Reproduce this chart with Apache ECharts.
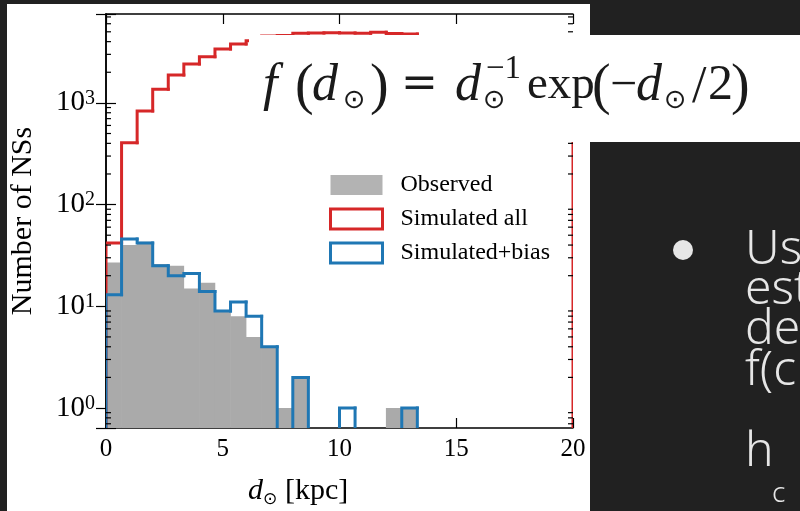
<!DOCTYPE html>
<html><head><meta charset="utf-8">
<script src="https://cdn.jsdelivr.net/npm/echarts@6/dist/echarts.min.js"></script>
<style>html,body{margin:0;padding:0;background:#212121;} #chart{width:800px;height:511px;}</style>
</head><body><div id="chart"></div>
<script>
// ---- data ----
const xRange = [0, 20];
const binCount = 30;
const observed      = [27, 40, 43, 26, 25, 15, 17, 9, 8, 5, 4, 1, 2, 0, 0, 0, 0, 0, 1, 1, 0, 0, 0, 0, 0, 0, 0, 0, 0, 0];
const simulatedAll  = [42, 406, 833, 1361, 1880, 2414, 2845, 3390, 3800, 4075, 4550, 4600, 4850, 4870, 4880, 4860, 4850, 4950, 4800, 4750, 4300, 3900, 3500, 3000, 2600, 2200, 1800, 1400, 1100, 800];
const simulatedBias = [13, 46, 42, 25, 20, 21, 14, 9, 11, 8, 4, 0, 2, 0, 0, 1, 0, 0, 0, 1, 0, 0, 0, 0, 0, 0, 0, 0, 0, 0];
const seriesNames = ['Observed', 'Simulated all', 'Simulated+bias'];
const xTickInterval = 5;
const yRange = [0.636, 7480];
const yMinorTicks = [0.7, 0.8, 0.9, 2, 3, 4, 5, 6, 7, 8, 9, 20, 30, 40, 50, 60, 70, 80, 90, 200, 300, 400, 500, 600, 700, 800, 900, 2000, 3000, 4000, 5000, 6000, 7000];

// ---- helpers ----
const binWidth = (xRange[1] - xRange[0]) / binCount;
function toBins(vals) {
  return vals.map((v, i) => [xRange[0] + i * binWidth, xRange[0] + (i + 1) * binWidth, v, i > 0 ? vals[i - 1] : 0, i === vals.length - 1 ? 1 : 0]);
}
function levelY(api, x, v) {
  if (v > 0) return api.coord([x, v])[1];
  return api.coord([x, yRange[0]])[1] + 20;
}
function stepRender(color) {
  return function (params, api) {
    const x0 = api.value(0), x1 = api.value(1), v = api.value(2), pv = api.value(3), last = api.value(4);
    const px0 = api.coord([x0, yRange[0]])[0], px1 = api.coord([x1, yRange[0]])[0];
    const y = levelY(api, x0, v), py = levelY(api, x0, pv);
    const pts = [[px0, py], [px0, y], [px1, y]];
    if (last) pts.push([px1, levelY(api, x1, 0)]);
    return { type: 'polyline', shape: { points: pts }, style: { stroke: color, lineWidth: 3, fill: null, lineJoin: 'miter', lineCap: 'square' } };
  };
}
function barRender(color) {
  return function (params, api) {
    const v = api.value(2);
    if (!(v > 0)) return { type: 'group', children: [] };
    const p0 = api.coord([api.value(0), v]);
    const p1 = api.coord([api.value(1), yRange[0]]);
    return { type: 'rect', shape: { x: p0[0] - 0.3, y: p0[1], width: p1[0] - p0[0] + 0.6, height: p1[1] - p0[1] + 5 }, style: { fill: color } };
  };
}
function minorTickRender(params, api) {
  const v = api.value(1);
  const pl = api.coord([xRange[0], v]);
  const pr = api.coord([xRange[1], v]);
  return { type: 'group', children: [
    { type: 'line', shape: { x1: pl[0], y1: pl[1], x2: pl[0] + 5, y2: pl[1] }, style: { stroke: '#000', lineWidth: 1.2 } },
    { type: 'line', shape: { x1: pr[0] - 5, y1: pr[1], x2: pr[0], y2: pr[1] }, style: { stroke: '#000', lineWidth: 1.2 } }
  ] };
}

const serif = 'Liberation Serif';
const axisLine = { lineStyle: { color: '#000', width: 1.5 } };
const majorTick = { inside: true, length: 10, lineStyle: { color: '#000', width: 1.2 } };

const red = '#d62728', blue = '#1f77b4', gray = '#aaaaaa';

function txt(text, x, y, size, opts) {
  opts = opts || {};
  return { type: 'text', x: x, y: y, z: opts.z || 120, rotation: opts.rotation || 0,
    style: { text: text, fontFamily: opts.family || serif, fontSize: size, fontStyle: opts.italic ? 'italic' : 'normal',
      fontWeight: opts.weight || 'normal',
      fill: opts.color || '#000', align: opts.align || 'left', verticalAlign: 'middle' } };
}

const sansR = 'Noto Sans';
const light = '#e6e6e6';
const ink = '#1a1a1a';
const fm = 86; // formula middle line

const option = {
  backgroundColor: '#212121',
  animation: false,
  grid: { left: 106, right: 227, top: 14, bottom: 83, containLabel: false },
  xAxis: [
    { type: 'value', min: xRange[0], max: xRange[1], interval: xTickInterval, position: 'bottom', axisLine: axisLine, axisTick: majorTick,
      axisLabel: { fontFamily: serif, fontSize: 25, color: '#000', margin: 9 }, splitLine: { show: false } },
    { type: 'value', min: xRange[0], max: xRange[1], interval: xTickInterval, position: 'top', axisLine: axisLine, axisTick: majorTick,
      axisLabel: { show: false }, splitLine: { show: false } }
  ],
  yAxis: [
    { type: 'log', logBase: 10, min: yRange[0], max: yRange[1], position: 'left', axisLine: axisLine, axisTick: majorTick, splitLine: { show: false },
      axisLabel: { margin: 11, formatter: function (v) { const e = Math.log10(v); const r = Math.round(e); if (Math.abs(e - r) > 1e-6) return ''; return '{b|10}{s|' + r + '}'; },
        rich: { b: { fontFamily: serif, fontSize: 29, color: '#000' }, s: { fontFamily: serif, fontSize: 20, color: '#000', verticalAlign: 'top' } } } },
    { type: 'log', logBase: 10, min: yRange[0], max: yRange[1], position: 'right', axisLine: axisLine, axisTick: majorTick, splitLine: { show: false }, axisLabel: { show: false } }
  ],
  legend: {
    orient: 'vertical', left: 329, top: 173, padding: 0, itemWidth: 52, itemHeight: 20, itemGap: 10, icon: 'rect', selectedMode: false,
    textStyle: { fontFamily: serif, fontSize: 24, color: '#000', lineHeight: 24, padding: [0, 0, 0, 13] },
    data: [
      { name: seriesNames[0], itemStyle: { color: '#b3b3b3', borderWidth: 0 } },
      { name: seriesNames[1], itemStyle: { color: '#fff', borderColor: red, borderWidth: 3 } },
      { name: seriesNames[2], itemStyle: { color: '#fff', borderColor: blue, borderWidth: 3 } }
    ]
  },
  series: [
    { name: seriesNames[0], type: 'custom', clip: true, renderItem: barRender(gray), encode: { x: [0, 1], y: 2 }, data: toBins(observed), itemStyle: { color: gray }, z: 2 },
    { name: seriesNames[1], type: 'custom', clip: true, renderItem: stepRender(red), encode: { x: [0, 1], y: 2 }, data: toBins(simulatedAll), itemStyle: { color: red }, z: 3 },
    { name: seriesNames[2], type: 'custom', clip: true, renderItem: stepRender(blue), encode: { x: [0, 1], y: 2 }, data: toBins(simulatedBias), itemStyle: { color: blue }, z: 4 },
    { name: 'minor', type: 'custom', clip: false, renderItem: minorTickRender, encode: { x: 0, y: 1 }, data: yMinorTicks.filter(v => v > yRange[0] && v < yRange[1]).map(v => [xRange[0], v]), z: 5, silent: true }
  ],
  graphic: [
    { type: 'rect', z: -100, shape: { x: 7, y: 4, width: 583, height: 507 }, style: { fill: '#fff' } },
    txt('Number of NSs', 23, 221, 30, { rotation: Math.PI / 2, align: 'center' }),
    txt('d', 248, 491, 30, { italic: true }),
    txt('⊙', 263, 500, 17, { family: 'DejaVu Sans' }),
    txt('[kpc]', 285, 491, 30),
    // formula box
    { type: 'rect', z: 110, shape: { x: 249, y: 35, width: 551, height: 107 }, style: { fill: '#fff' } },
    txt('f', 263, fm, 52, { italic: true, color: ink }),
    txt('(', 295, fm + 2, 56, { color: ink }),
    txt('d', 312, fm, 52, { italic: true, color: ink }),
    txt('⊙', 343, 101, 27, { family: 'DejaVu Sans', color: ink }),
    txt(')', 370, fm + 2, 56, { color: ink }),
    txt('=', 401, fm, 44, { family: 'DejaVu Serif', color: ink }),
    txt('d', 455, fm, 52, { italic: true, color: ink }),
    txt('−1', 486, 69, 33, { color: ink }),
    txt('⊙', 483, 101, 27, { family: 'DejaVu Sans', color: ink }),
    txt('exp', 527, fm, 47, { color: ink }),
    txt('(', 592, fm + 2, 56, { color: ink }),
    txt('−', 610, fm, 48, { color: ink }),
    txt('d', 636, fm, 52, { italic: true, color: ink }),
    txt('⊙', 664, 101, 27, { family: 'DejaVu Sans', color: ink }),
    txt('/', 692, fm + 2, 52, { color: ink }),
    txt('2', 708, fm, 50, { color: ink }),
    txt(')', 731, fm + 2, 56, { color: ink }),
    // right slide text
    { type: 'circle', z: 120, shape: { cx: 683, cy: 250, r: 10 }, style: { fill: light } },
    txt('Us', 745, 250, 48, { family: sansR, color: light, weight: 300 }),
    txt('est', 745, 290, 48, { family: sansR, color: light, weight: 300 }),
    txt('de', 745, 330, 48, { family: sansR, color: light, weight: 300 }),
    txt('f(c', 745, 371, 48, { family: sansR, color: light, weight: 300 }),
    txt('h', 745, 452, 48, { family: sansR, color: light, weight: 300 }),
    txt('c', 772, 494, 28, { family: sansR, color: light, weight: 300 })
  ]
};
const chart = echarts.init(document.getElementById('chart'), null, { renderer: 'canvas' });
chart.setOption(option);
</script></body></html>
